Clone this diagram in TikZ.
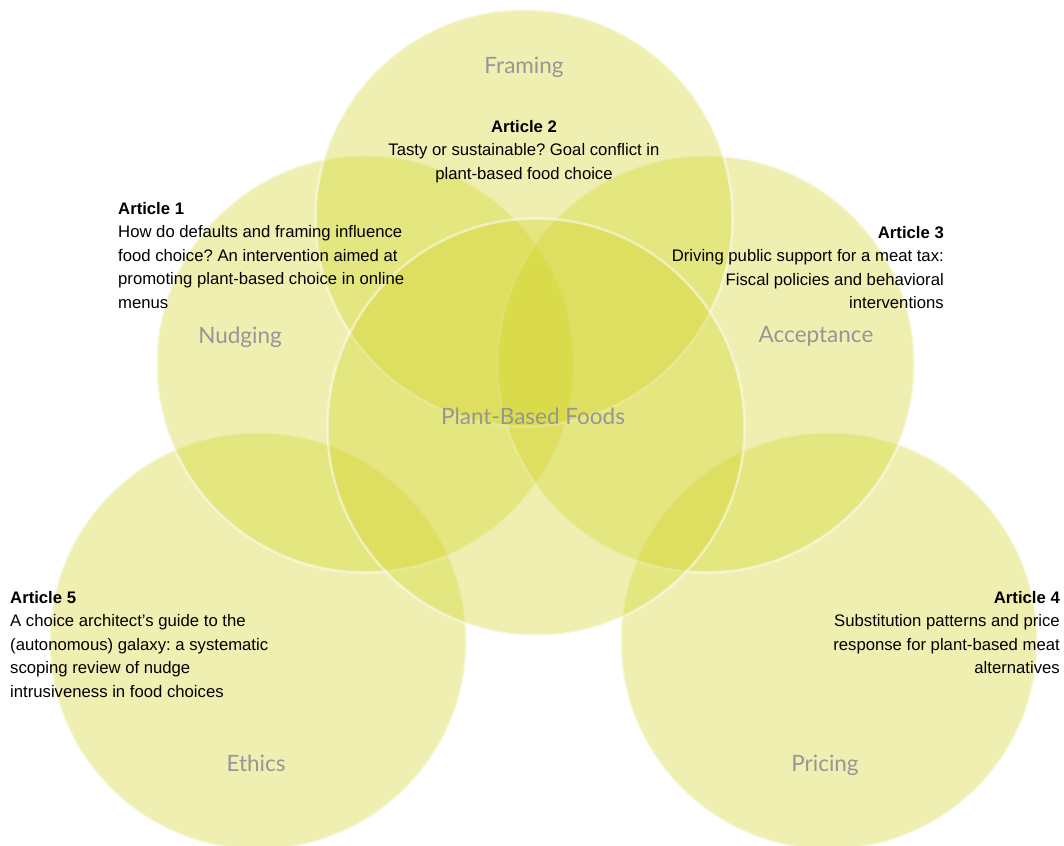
\documentclass[tikz,border=0pt]{standalone}
\usepackage{fontspec}
\setmainfont{Liberation Sans}
\newfontfamily\topicfont{Lato}
\usetikzlibrary{positioning}
\definecolor{discfill}{RGB}{210,212,40}
\definecolor{topicgray}{RGB}{150,150,150}
\frenchspacing

\begin{document}
\begin{tikzpicture}[
x=1pt, y=-1pt,
 disc/.style = {circle, minimum size=417pt, inner sep=0pt,% styles of the overlapping circles
                fill=discfill, fill opacity=0.36,
                draw=white, draw opacity=0.5, line width=2.5pt},
topic/.style = {font=\topicfont\fontsize{22.5}{22.5}\selectfont, text=topicgray, inner sep=0pt},
  art/.style = {font=\fontsize{16.7}{23.5}\selectfont, inner sep=0pt},% base = last line
                        ]
\useasboundingbox (0,0) rectangle (1064,845);
\foreach \n/\x/\y in {ethics/258/641,pricing/829/641,nudging/365/364,%
                      acceptance/706/364,framing/524/218,plant/536/427}% <-- circle centres
    \node[disc] (\n) at (\x,\y) {};
% topic names
\node[topic] (framing-t)    at (524,67.5)  {Framing};
\node[topic] (nudging-t)    at (240,337.5) {Nudging};
\node[topic] (acceptance-t) at (816,336.5) {Acceptance};
\node[topic] (plant-t)      at (533,416.5) {Plant-Based Foods};
\node[topic] (ethics-t)     at (256,763.5) {Ethics};
\node[topic] (pricing-t)    at (825,765.5) {Pricing};
% articles
\node[art, anchor=base west, align=left] (art1) at (118,308)
    {\textbf{Article 1}\\How do defaults and framing influence\\food choice? An intervention aimed at\\promoting plant-based choice in online\\menus};
\node[art, anchor=base, align=center] (art2) at (524,179)
    {\textbf{Article 2}\\Tasty or sustainable? Goal conflict in\\plant-based food choice};
\node[art, anchor=base east, align=right] (art3) at (944,308.5)
    {\textbf{Article 3}\\Driving public support for a meat tax:\\Fiscal policies and behavioral\\interventions};
\node[art, anchor=base east, align=right] (art4) at (1060,673.5)
    {\textbf{Article 4}\\Substitution patterns and price\\response for plant-based meat\\alternatives};
\node[art, anchor=base west, align=left] (art5) at (10,697)
    {\textbf{Article 5}\\A choice architect’s guide to the\\(autonomous) galaxy: a systematic\\scoping review of nudge\\intrusiveness in food choices};
\end{tikzpicture}
\end{document}
